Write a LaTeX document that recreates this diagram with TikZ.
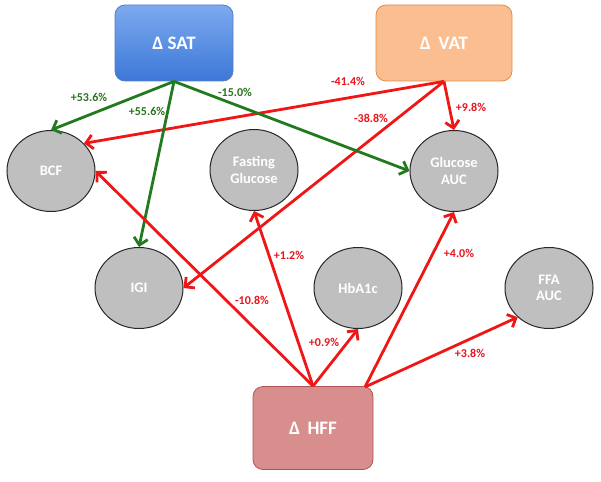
\documentclass[tikz,border=0pt]{standalone}
\usepackage{fontspec}
\setmainfont{Carlito}
\usetikzlibrary{arrows.meta,shapes.geometric}
\definecolor{grn}{RGB}{34,122,30}
\definecolor{rd}{RGB}{240,22,22}
\definecolor{lblgrn}{RGB}{40,115,30}
\definecolor{lblrd}{RGB}{232,20,30}
\definecolor{ellfill}{RGB}{191,191,191}
\definecolor{satT}{RGB}{125,170,240}
\definecolor{satB}{RGB}{60,120,215}
\definecolor{satD}{RGB}{85,125,195}
\definecolor{vatF}{RGB}{250,190,145}
\definecolor{vatD}{RGB}{225,140,75}
\definecolor{hffF}{RGB}{217,142,142}
\definecolor{hffD}{RGB}{175,85,85}
\begin{document}
\begin{tikzpicture}[x=1pt,y=-1pt,
  bigbox/.style={rounded corners=10pt, draw, line width=0.8pt, inner sep=0pt,
    text=white, font=\bfseries\fontsize{19}{21}\selectfont},
  ell/.style={ellipse, draw=black!85, line width=1pt, fill=ellfill, inner sep=0pt,
    minimum width=88pt, minimum height=81pt, text=white, align=center,
    font=\bfseries\fontsize{14.5}{16.5}\selectfont},
  garrow/.style={draw=grn, line width=2.8pt, -{Straight Barb[length=7pt,width=14pt]}},
  rarrow/.style={draw=rd, line width=2.8pt, -{Straight Barb[length=7pt,width=14pt]}},
  glbl/.style={text=lblgrn, font=\bfseries\fontsize{12}{14}\selectfont, inner sep=0pt},
  rlbl/.style={text=lblrd, font=\bfseries\fontsize{12}{14}\selectfont, inner sep=0pt}
]
\useasboundingbox (0,0) rectangle (601,481);

% boxes
\node[bigbox, draw=satD, top color=satT, bottom color=satB,
  minimum width=118pt, minimum height=76pt] (sat) at (174,43) {Δ SAT};
\node[bigbox, draw=vatD, fill=vatF,
  minimum width=136pt, minimum height=76pt] (vat) at (444,43) {Δ\, VAT};
\node[bigbox, draw=hffD, fill=hffF,
  minimum width=120pt, minimum height=83pt] (hff) at (313,428) {Δ\, HFF};

% ellipses
\node[ell] (bcf) at (51,171) {BCF};
\node[ell] (fg) at (254,170) {Fasting\\Glucose};
\node[ell] (gauc) at (454,171) {Glucose\\AUC};
\node[ell] (igi) at (139,288) {IGI};
\node[ell] (hba) at (358,288) {HbA1c};
\node[ell] (ffa) at (549,288) {FFA\\AUC};

\coordinate (hffr) at (365,387);

% red arrows from VAT
\draw[rarrow] (vat.south) -- (bcf.40);
\draw[rarrow] (vat.south) -- (igi.east);
\draw[rarrow] (vat.south) -- (gauc.north);

% green arrows from SAT
\draw[garrow] (sat.south) -- (bcf.north);
\draw[garrow] (sat.south) -- (igi.north);
\draw[garrow] (sat.south) -- (gauc.west);

% red arrows from HFF
\draw[rarrow] (hff.north) -- (bcf.east);
\draw[rarrow] (hff.north) -- (fg.south);
\draw[rarrow] (hff.north) -- (hba.south);
\draw[rarrow] (hffr) -- (gauc.south);
\draw[rarrow] (hffr) -- (ffa.223);

% labels
\node[glbl] (l1) at (89,97) {+53.6\%};
\node[glbl] (l2) at (147,111) {+55.6\%};
\node[glbl] (l3) at (235,92) {-15.0\%};
\node[rlbl] (l4) at (348,81) {-41.4\%};
\node[rlbl] (l5) at (371,118) {-38.8\%};
\node[rlbl] (l6) at (471,107) {+9.8\%};
\node[rlbl] (l7) at (252,300) {-10.8\%};
\node[rlbl] (l8) at (289,255) {+1.2\%};
\node[rlbl] (l9) at (324,342) {+0.9\%};
\node[rlbl] (l10) at (459,253) {+4.0\%};
\node[rlbl] (l11) at (470,353) {+3.8\%};
\end{tikzpicture}
\end{document}
